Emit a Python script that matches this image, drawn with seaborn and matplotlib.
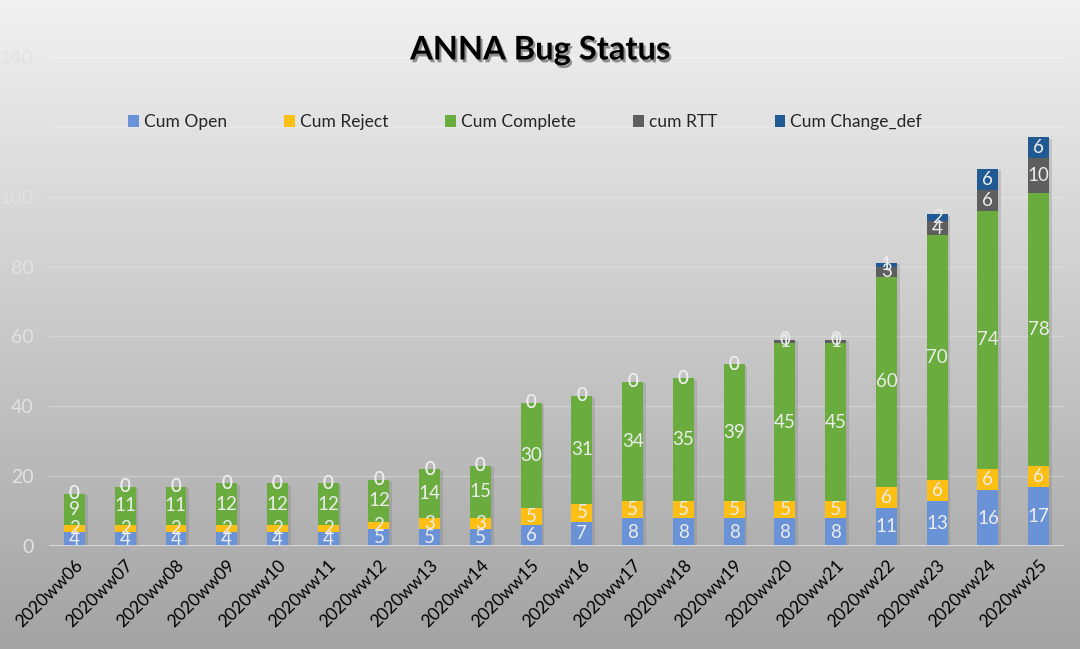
import numpy as np
import pandas as pd
import matplotlib
matplotlib.use("Agg")
import matplotlib.pyplot as plt
import matplotlib.patheffects as pe
from matplotlib.patches import Patch
import seaborn as sns

weeks = ["2020ww06", "2020ww07", "2020ww08", "2020ww09", "2020ww10", "2020ww11",
         "2020ww12", "2020ww13", "2020ww14", "2020ww15", "2020ww16", "2020ww17",
         "2020ww18", "2020ww19", "2020ww20", "2020ww21", "2020ww22", "2020ww23",
         "2020ww24", "2020ww25"]
cum_open = [4, 4, 4, 4, 4, 4, 5, 5, 5, 6, 7, 8, 8, 8, 8, 8, 11, 13, 16, 17]
cum_reject = [2, 2, 2, 2, 2, 2, 2, 3, 3, 5, 5, 5, 5, 5, 5, 5, 6, 6, 6, 6]
cum_complete = [9, 11, 11, 12, 12, 12, 12, 14, 15, 30, 31, 34, 35, 39, 45, 45, 60, 70, 74, 78]
cum_rtt = [0, 0, 0, 0, 0, 0, 0, 0, 0, 0, 0, 0, 0, 0, 1, 1, 3, 4, 6, 10]
cum_change = [0, 0, 0, 0, 0, 0, 0, 0, 0, 0, 0, 0, 0, 0, 0, 0, 1, 2, 6, 6]

series_names = ["Cum Open", "Cum Reject", "Cum Complete", "cum RTT", "Cum Change_def"]
series_vals = [cum_open, cum_reject, cum_complete, cum_rtt, cum_change]
colors = ["#6a92d6", "#fdbf13", "#6aac3e", "#5e5e5e", "#215a92"]
yticks = [0, 20, 40, 60, 80, 100, 120, 140]

sns.set_theme(style="white")
plt.rcParams["font.family"] = ["Lato", "DejaVu Sans"]

fig = plt.figure(figsize=(10.8, 6.49), dpi=100)

# background gradient
bg = fig.add_axes([0, 0, 1, 1], zorder=-10)
grad = np.linspace(0, 1, 256).reshape(-1, 1)
top = np.array([0.945, 0.945, 0.945])
bot = np.array([0.64, 0.64, 0.64])
img = top + (bot - top) * grad[:, :, None]
bg.imshow(img, aspect="auto", extent=[0, 1, 0, 1], origin="upper")
bg.axis("off")

ax = fig.add_axes([0.0454, 1 - 546 / 649, 0.9398, (546 - 57) / 649])
ax.patch.set_alpha(0)

df = pd.DataFrame({"week": weeks})
vals = np.array(series_vals, dtype=float)
cums = np.cumsum(vals, axis=0)

# draw cumulative bars from top layer down
for k in range(len(series_names) - 1, -1, -1):
    df["y"] = cums[k]
    sns.barplot(data=df, x="week", y="y", color=colors[k], width=0.41,
                saturation=1, ax=ax, zorder=3, edgecolor="none", linewidth=0)

# soft shadow on outermost bars
n = len(weeks)
for p in ax.patches[:n]:
    p.set_path_effects([pe.SimplePatchShadow(offset=(2, -1), shadow_rgbFace="#666666", alpha=0.22),
                        pe.Normal()])

# data labels
for k in range(len(series_names)):
    for i in range(n):
        base = cums[k][i] - vals[k][i]
        yc = base + vals[k][i] / 2
        ax.text(i, yc, f"{int(vals[k][i])}", ha="center", va="center",
                color="#ececec", fontsize=13.5, zorder=5)

ax.set_ylim(0, 140)
ax.set_xlim(-0.5, n - 0.5)
ax.set_yticks(yticks)
ax.set_yticklabels([str(t) for t in yticks], color="#e2e2e2", fontsize=14)
ax.yaxis.grid(True, color="white", alpha=0.25, lw=1, zorder=0)
ax.set_axisbelow(True)
for s in ax.spines.values():
    s.set_visible(False)
ax.axhline(0, color="#dedede", lw=2, zorder=4)
ax.tick_params(axis="both", length=0)
ax.tick_params(axis="y", pad=11)
ax.set_xlabel("")
ax.set_ylabel("")
ax.set_xticks(range(n))
ax.set_xticklabels(weeks, rotation=45, ha="right", rotation_mode="anchor",
                   fontsize=12.5, color="black")
ax.tick_params(axis="x", pad=8)

title = fig.text(0.5, 1 - 50 / 649, "ANNA Bug Status", ha="center", va="center",
                 fontsize=23.5, fontweight="bold", color="black")
title.set_path_effects([pe.SimplePatchShadow(offset=(1.5, -2), shadow_rgbFace="#333333", alpha=0.5),
                        pe.Normal()])

handles = [Patch(facecolor=c, edgecolor="none") for c in colors]
fig.legend(handles, series_names, loc="center", bbox_to_anchor=(525 / 1080, 1 - 122 / 649),
           ncol=5, frameon=False, fontsize=12.5, handlelength=0.6, handleheight=0.7,
           handletextpad=0.3, columnspacing=3.3)

fig.savefig("out.png", dpi=100)
